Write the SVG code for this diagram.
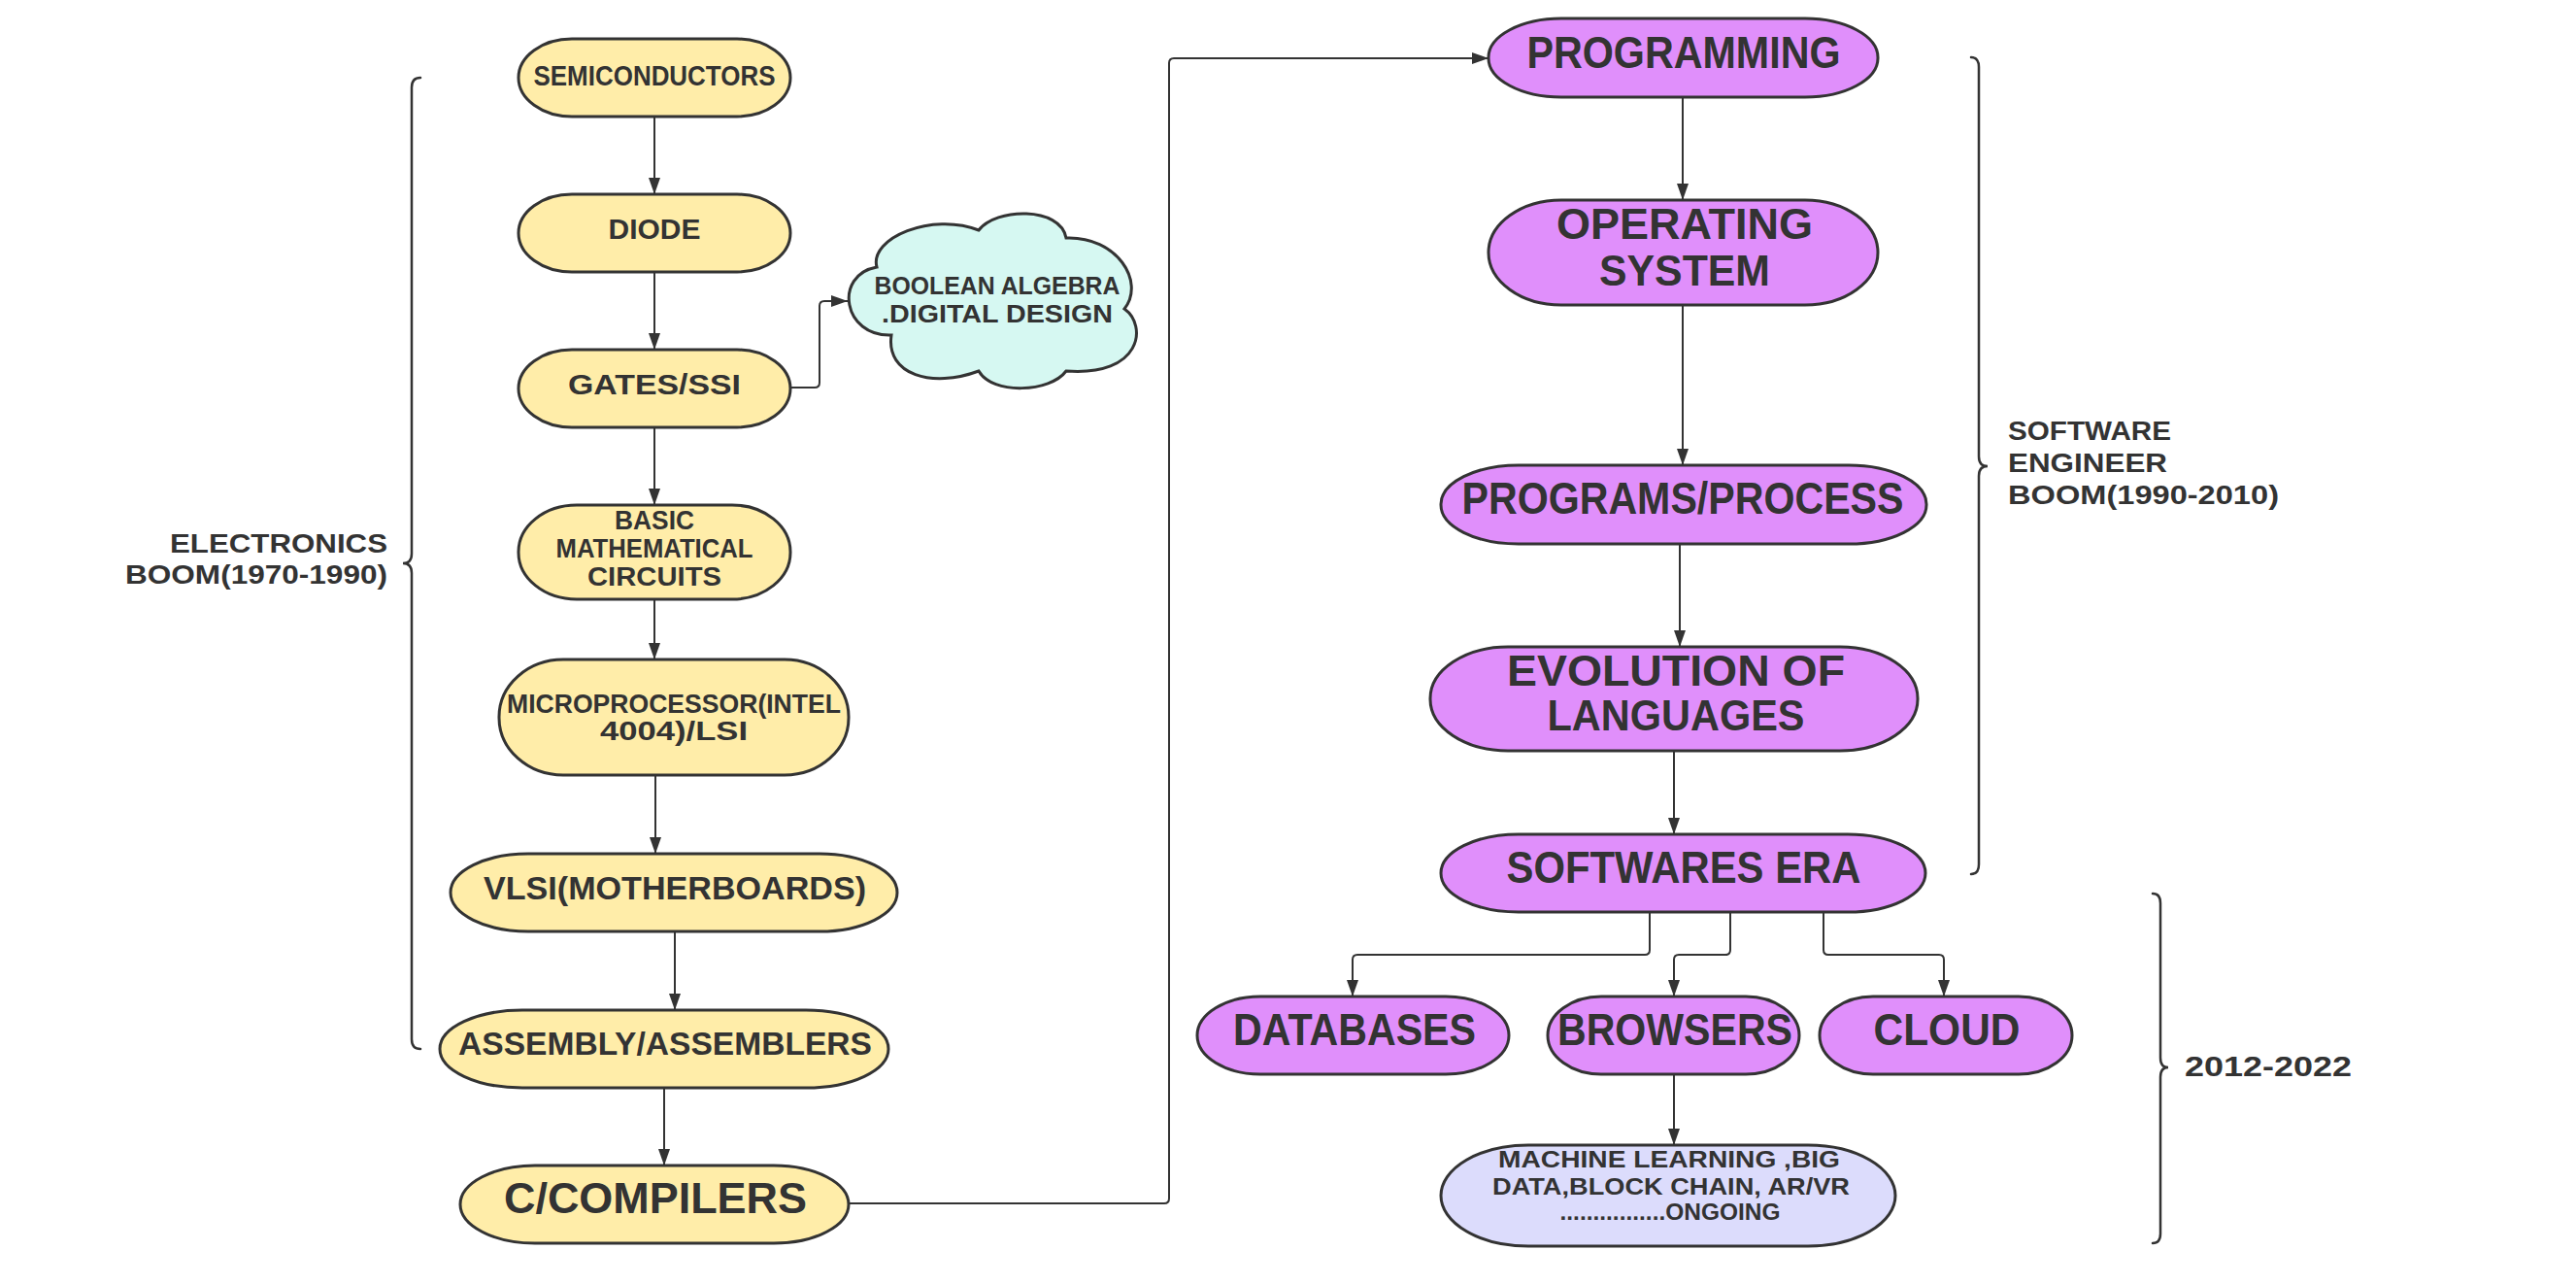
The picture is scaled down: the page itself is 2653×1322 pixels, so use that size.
<svg xmlns="http://www.w3.org/2000/svg" width="2653" height="1322" viewBox="0 0 2653 1322">
<defs>
<style>
.y{fill:#FFEDA9;stroke:#333;stroke-width:3}
.p{fill:#E08FFB;stroke:#333;stroke-width:3}
.c{fill:#D6F8F2;stroke:#333;stroke-width:3}
.l{fill:#DCDCFC;stroke:#333;stroke-width:3}
text{font-family:"Liberation Sans","DejaVu Sans",sans-serif;font-weight:bold;fill:#333;text-anchor:middle}
.lbl{text-anchor:start}
.r{text-anchor:end}
.e{fill:none;stroke:#333;stroke-width:2}
.b{fill:none;stroke:#333;stroke-width:2.5;stroke-linecap:round}
</style>
<marker id="ah" markerUnits="userSpaceOnUse" markerWidth="17" markerHeight="12" refX="17" refY="6" orient="auto">
<path d="M0,0 L17,6 L0,12 z" fill="#333"/>
</marker>
</defs>
<rect width="2653" height="1322" fill="#fff"/>

<g id="connectors">
<path class="e" marker-end="url(#ah)" d="M674 120 V200"/>
<path class="e" marker-end="url(#ah)" d="M674 280 V360"/>
<path class="e" marker-end="url(#ah)" d="M674 440 V520"/>
<path class="e" marker-end="url(#ah)" d="M674 617 V679"/>
<path class="e" marker-end="url(#ah)" d="M675 798 V879"/>
<path class="e" marker-end="url(#ah)" d="M695 959 V1040"/>
<path class="e" marker-end="url(#ah)" d="M684 1119 V1200"/>
<path class="e" marker-end="url(#ah)" d="M814 399 H839 Q844 399 844 394 V315 Q844 310 849 310 H873"/>
<path class="e" marker-end="url(#ah)" d="M874 1239 H1199 Q1204 1239 1204 1234 V65 Q1204 60 1209 60 H1533"/>
<path class="e" marker-end="url(#ah)" d="M1733 100 V206"/>
<path class="e" marker-end="url(#ah)" d="M1733 314 V479"/>
<path class="e" marker-end="url(#ah)" d="M1730 560 V666"/>
<path class="e" marker-end="url(#ah)" d="M1724 773 V859"/>
<path class="e" marker-end="url(#ah)" d="M1699 939 V978 Q1699 983 1694 983 H1398 Q1393 983 1393 988 V1026"/>
<path class="e" marker-end="url(#ah)" d="M1782 939 V978 Q1782 983 1777 983 H1729 Q1724 983 1724 988 V1026"/>
<path class="e" marker-end="url(#ah)" d="M1878 939 V978 Q1878 983 1883 983 H1997 Q2002 983 2002 988 V1026"/>
<path class="e" marker-end="url(#ah)" d="M1724 1106 V1179"/>
</g>

<g id="brace-electronics">
<path class="b" d="M433 80 Q424 80 424 90 V570 Q424 580 415 580 Q424 580 424 590 V1070 Q424 1080 433 1080"/>
<text class="r" x="399" y="569" font-size="27" textLength="224" lengthAdjust="spacingAndGlyphs">ELECTRONICS</text>
<text class="r" x="399" y="601" font-size="27" textLength="270" lengthAdjust="spacingAndGlyphs">BOOM(1970-1990)</text>
</g>
<g id="brace-software">
<path class="b" d="M2030 59 Q2038 59 2038 69 V470 Q2038 480 2047 480 Q2038 480 2038 490 V890 Q2038 900 2030 900"/>
<text class="lbl" x="2068" y="453" font-size="27" textLength="168" lengthAdjust="spacingAndGlyphs">SOFTWARE</text>
<text class="lbl" x="2068" y="486" font-size="27" textLength="164" lengthAdjust="spacingAndGlyphs">ENGINEER</text>
<text class="lbl" x="2068" y="519" font-size="27" textLength="279" lengthAdjust="spacingAndGlyphs">BOOM(1990-2010)</text>
</g>
<g id="brace-2012">
<path class="b" d="M2217 920 Q2225 920 2225 930 V1089 Q2225 1099 2233 1099 Q2225 1099 2225 1109 V1270 Q2225 1280 2217 1280"/>
<text class="lbl" x="2250" y="1108" font-size="30" textLength="172" lengthAdjust="spacingAndGlyphs">2012-2022</text>
</g>

<g id="semiconductors">
<rect class="y" x="534" y="40" width="280" height="80" rx="55" ry="40"/>
<text x="674" y="88" font-size="29" textLength="249" lengthAdjust="spacingAndGlyphs">SEMICONDUCTORS</text>
</g>
<g id="diode">
<rect class="y" x="534" y="200" width="280" height="80" rx="55" ry="40"/>
<text x="674" y="246" font-size="29" textLength="95" lengthAdjust="spacingAndGlyphs">DIODE</text>
</g>
<g id="gates">
<rect class="y" x="534" y="360" width="280" height="80" rx="55" ry="40"/>
<text x="674" y="406" font-size="29" textLength="178" lengthAdjust="spacingAndGlyphs">GATES/SSI</text>
</g>
<g id="basic">
<rect class="y" x="534" y="520" width="280" height="97" rx="60" ry="48"/>
<text x="674" y="545" font-size="27" textLength="82" lengthAdjust="spacingAndGlyphs">BASIC</text>
<text x="674" y="574" font-size="27" textLength="203" lengthAdjust="spacingAndGlyphs">MATHEMATICAL</text>
<text x="674" y="603" font-size="27" textLength="138" lengthAdjust="spacingAndGlyphs">CIRCUITS</text>
</g>
<g id="microprocessor">
<rect class="y" x="514" y="679" width="360" height="119" rx="66" ry="59"/>
<text x="694" y="734" font-size="27" textLength="344" lengthAdjust="spacingAndGlyphs">MICROPROCESSOR(INTEL</text>
<text x="694" y="762" font-size="27" textLength="152" lengthAdjust="spacingAndGlyphs">4004)/LSI</text>
</g>
<g id="vlsi">
<rect class="y" x="464" y="879" width="460" height="80" rx="80" ry="40"/>
<text x="695" y="926" font-size="34" textLength="394" lengthAdjust="spacingAndGlyphs">VLSI(MOTHERBOARDS)</text>
</g>
<g id="assembly">
<rect class="y" x="453" y="1040" width="462" height="80" rx="85" ry="40"/>
<text x="685" y="1086" font-size="34" textLength="426" lengthAdjust="spacingAndGlyphs">ASSEMBLY/ASSEMBLERS</text>
</g>
<g id="compilers">
<rect class="y" x="474" y="1200" width="400" height="80" rx="77" ry="40"/>
<text x="675" y="1249" font-size="44" textLength="312" lengthAdjust="spacingAndGlyphs">C/COMPILERS</text>
</g>
<g id="boolean">
<path class="c" d="M903 275 C895 245 960 218 1008 237 C1025 214 1092 212 1098 245 C1150 243 1180 290 1158 318 C1182 335 1176 388 1098 382 C1082 404 1022 407 1008 382 C960 400 912 386 918 345 C868 347 858 283 903 275 Z"/>
<text x="1027" y="303" font-size="25" textLength="253" lengthAdjust="spacingAndGlyphs">BOOLEAN ALGEBRA</text>
<text x="1027" y="332" font-size="25" textLength="238" lengthAdjust="spacingAndGlyphs">.DIGITAL DESIGN</text>
</g>

<g id="programming">
<rect class="p" x="1533" y="19" width="401" height="81" rx="75" ry="40"/>
<text x="1734" y="70" font-size="46" textLength="323" lengthAdjust="spacingAndGlyphs">PROGRAMMING</text>
</g>
<g id="os">
<rect class="p" x="1533" y="206" width="401" height="108" rx="75" ry="54"/>
<text x="1735" y="246" font-size="44" textLength="264" lengthAdjust="spacingAndGlyphs">OPERATING</text>
<text x="1735" y="294" font-size="44" textLength="176" lengthAdjust="spacingAndGlyphs">SYSTEM</text>
</g>
<g id="programs">
<rect class="p" x="1484" y="479" width="500" height="81" rx="80" ry="40"/>
<text x="1733" y="529" font-size="46" textLength="455" lengthAdjust="spacingAndGlyphs">PROGRAMS/PROCESS</text>
</g>
<g id="evolution">
<rect class="p" x="1473" y="666" width="502" height="107" rx="80" ry="53"/>
<text x="1726" y="706" font-size="44" textLength="348" lengthAdjust="spacingAndGlyphs">EVOLUTION OF</text>
<text x="1726" y="752" font-size="44" textLength="265" lengthAdjust="spacingAndGlyphs">LANGUAGES</text>
</g>
<g id="softwares">
<rect class="p" x="1484" y="859" width="499" height="80" rx="80" ry="40"/>
<text x="1734" y="909" font-size="46" textLength="365" lengthAdjust="spacingAndGlyphs">SOFTWARES ERA</text>
</g>
<g id="databases">
<rect class="p" x="1233" y="1026" width="321" height="80" rx="65" ry="40"/>
<text x="1395" y="1076" font-size="46" textLength="250" lengthAdjust="spacingAndGlyphs">DATABASES</text>
</g>
<g id="browsers">
<rect class="p" x="1594" y="1026" width="259" height="80" rx="55" ry="40"/>
<text x="1725" y="1076" font-size="46" textLength="242" lengthAdjust="spacingAndGlyphs">BROWSERS</text>
</g>
<g id="cloud">
<rect class="p" x="1874" y="1026" width="260" height="80" rx="55" ry="40"/>
<text x="2005" y="1076" font-size="46" textLength="151" lengthAdjust="spacingAndGlyphs">CLOUD</text>
</g>
<g id="ml">
<rect class="l" x="1484" y="1179" width="468" height="104" rx="90" ry="52"/>
<text x="1719" y="1202" font-size="24" textLength="352" lengthAdjust="spacingAndGlyphs">MACHINE LEARNING ,BIG</text>
<text x="1721" y="1230" font-size="24" textLength="368" lengthAdjust="spacingAndGlyphs">DATA,BLOCK CHAIN, AR/VR</text>
<text x="1720" y="1256" font-size="24" textLength="227" lengthAdjust="spacingAndGlyphs">................ONGOING</text>
</g>
</svg>
